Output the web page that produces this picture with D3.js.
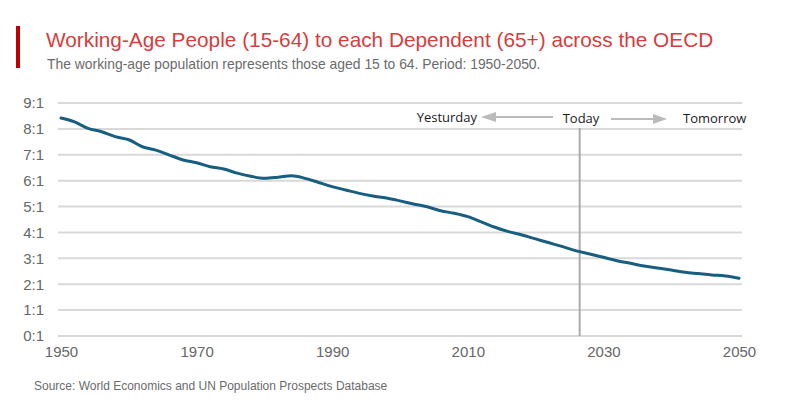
<!DOCTYPE html>
<html>
<head>
<meta charset="utf-8">
<script src="https://cdn.jsdelivr.net/npm/d3@7"></script>
<style>
  body { margin: 0; background: #fff; }
  svg { display: block; }
</style>
</head>
<body>
<svg id="chart" width="800" height="400"></svg>
<script>
// years, every 2 years
var years = d3.range(1950, 2051, 2);
var ratio = [8.42, 8.27, 8.02, 7.89, 7.70, 7.58, 7.31, 7.18, 6.99, 6.80,
             6.69, 6.54, 6.45, 6.29, 6.17, 6.09, 6.13, 6.19, 6.09, 5.93,
             5.77, 5.64, 5.51, 5.41, 5.33, 5.22, 5.10, 4.99, 4.84, 4.74,
             4.61, 4.41, 4.20, 4.03, 3.90, 3.75, 3.60, 3.45, 3.29, 3.17,
             3.04, 2.91, 2.81, 2.70, 2.63, 2.55, 2.46, 2.41, 2.36, 2.32, 2.23];
var yTicks = [0, 1, 2, 3, 4, 5, 6, 7, 8, 9];
var xTicks = [1950, 1970, 1990, 2010, 2030, 2050];
var todayYear = 2026.5;

var svg = d3.select("#chart");

var x = d3.scaleLinear().domain([1950, 2050]).range([61, 739]);
var y = d3.scaleLinear().domain([0, 9]).range([336, 103]);

// title block
svg.append("rect").attr("x", 16).attr("y", 26).attr("width", 4).attr("height", 42)
  .attr("fill", "#c00000");
svg.append("text").attr("x", 46).attr("y", 47)
  .attr("font-family", "Liberation Sans, Arial, sans-serif").attr("font-size", 20.8)
  .attr("fill", "#d63d3d")
  .text("Working-Age People (15-64) to each Dependent (65+) across the OECD");
svg.append("text").attr("x", 47).attr("y", 69)
  .attr("font-family", "Liberation Sans, Arial, sans-serif").attr("font-size", 13.9)
  .attr("fill", "#6b6b6b")
  .text("The working-age population represents those aged 15 to 64. Period: 1950-2050.");

// gridlines
svg.append("g").selectAll("line").data(yTicks).join("line")
  .attr("x1", 58).attr("x2", 742)
  .attr("y1", d => y(d)).attr("y2", d => y(d))
  .attr("stroke", "#d9d9d9").attr("stroke-width", 2);

// y labels
var yAxis = svg.append("g").attr("transform", "translate(44,0)")
  .call(d3.axisLeft(y).tickValues(yTicks).tickSize(0).tickPadding(0)
    .tickFormat(d => d + ":1"));
yAxis.select(".domain").remove();
yAxis.selectAll("text")
  .attr("font-family", "Liberation Sans Narrow, Liberation Sans, sans-serif")
  .attr("font-size", 15).attr("fill", "#666666");

// x labels
var xAxis = svg.append("g").attr("transform", "translate(0,346)")
  .call(d3.axisBottom(x).tickValues(xTicks).tickSize(0).tickPadding(0)
    .tickFormat(d3.format("d")));
xAxis.select(".domain").remove();
xAxis.selectAll("text")
  .attr("font-family", "Liberation Sans Narrow, Liberation Sans, sans-serif")
  .attr("font-size", 15).attr("fill", "#666666");

// today marker
svg.append("line")
  .attr("x1", x(todayYear)).attr("x2", x(todayYear))
  .attr("y1", 128).attr("y2", 336)
  .attr("stroke", "#aaaaaa").attr("stroke-width", 2);

// the series
var line = d3.line()
  .x((d, i) => x(years[i]))
  .y(d => y(d))
  .curve(d3.curveMonotoneX);
svg.append("path").datum(ratio)
  .attr("d", line)
  .attr("fill", "none")
  .attr("stroke", "#175e81")
  .attr("stroke-width", 3)
  .attr("stroke-linecap", "round");

// yesterday / today / tomorrow annotation
var ann = svg.append("g")
  .attr("font-family", "Open Sans, sans-serif").attr("font-size", 13)
  .attr("fill", "#1a1a1a");
ann.append("text").attr("x", 477).attr("y", 122).attr("text-anchor", "end").text("Yesturday");
ann.append("text").attr("x", 581).attr("y", 123).attr("text-anchor", "middle").text("Today");
ann.append("text").attr("x", 683).attr("y", 123).text("Tomorrow");

ann.append("line").attr("x1", 553).attr("x2", 494).attr("y1", 117).attr("y2", 117)
  .attr("stroke", "#bbbbbb").attr("stroke-width", 2);
ann.append("path").attr("d", "M481,117 L496,112 L496,122 Z").attr("fill", "#bbbbbb");
ann.append("line").attr("x1", 611).attr("x2", 655).attr("y1", 119).attr("y2", 119)
  .attr("stroke", "#bbbbbb").attr("stroke-width", 2);
ann.append("path").attr("d", "M667,119 L653,114 L653,124 Z").attr("fill", "#bbbbbb");

// source
svg.append("text").attr("x", 34).attr("y", 390)
  .attr("font-family", "Liberation Sans, Arial, sans-serif").attr("font-size", 12)
  .attr("fill", "#6b6b6b")
  .text("Source: World Economics and UN Population Prospects Database");
</script>
</body>
</html>
